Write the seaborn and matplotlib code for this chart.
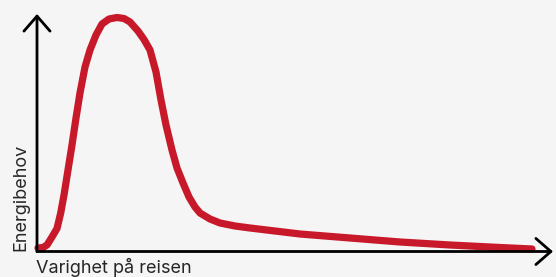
import pandas as pd
import seaborn as sns
import matplotlib.pyplot as plt

# curve (arbitrary units)
duration = [1, 6, 10, 15, 20, 23.7, 27, 31, 35, 39, 43, 48, 53, 59, 65, 72, 80, 87, 93,
            101, 107, 113, 119, 124, 129, 135, 140, 146, 152, 158, 163, 173, 183, 198,
            213, 238, 263, 313, 363, 413, 463, 495]
energy = [3.5, 4, 6.5, 14.5, 23, 38.5, 56.5, 81.5, 106.5, 133.5, 158.5, 184.5, 201.5,
          216.5, 227.5, 232.5, 234, 233, 229.5, 220.5, 212, 201.5, 179.5, 151.5, 126.5,
          101.5, 83.5, 68.5, 54.5, 44.5, 38.5, 32.5, 28.5, 25.5, 23.5, 20.5, 17.5, 13.5,
          9.5, 6.5, 4, 2.5]

df = pd.DataFrame({'Varighet': duration, 'Energibehov': energy})

sns.set_style('white')
plt.rcParams['font.family'] = ['Inter', 'DejaVu Sans']
bg = '#f5f5f5'

fig = plt.figure(figsize=(5.56, 2.77), dpi=100, facecolor=bg)
ax = fig.add_axes([37 / 556, 25.5 / 277, 516 / 556, 237.5 / 277], facecolor=bg)

sns.lineplot(data=df, x='Varighet', y='Energibehov', ax=ax, color='#c8192b',
             linewidth=5.2, solid_capstyle='round', solid_joinstyle='round',
             clip_on=False, zorder=3)
ax.set_xlim(0, 516)
ax.set_ylim(0, 237.5)
for s in ax.spines.values():
    s.set_visible(False)
ax.set_xticks([])
ax.set_yticks([])
ax.set_xlabel('')
ax.set_ylabel('')

# axes with open arrowheads
arrow = dict(arrowstyle='->, head_length=0.54, head_width=0.47', color='black', lw=2,
             mutation_scale=20, shrinkA=0, shrinkB=0)
ax.annotate('', xy=(1, 0), xytext=(0, 0), xycoords='axes fraction', arrowprops=arrow)
ax.annotate('', xy=(0, 1), xytext=(0, 0), xycoords='axes fraction', arrowprops=arrow)

fig.text(36 / 556, 4 / 277, 'Varighet på reisen', fontsize=13, ha='left', va='baseline')
fig.text(25 / 556, 26 / 277, 'Energibehov', fontsize=13, rotation=90,
         rotation_mode='anchor', ha='left', va='baseline')

fig.savefig('out.png', dpi=100, facecolor=bg)
